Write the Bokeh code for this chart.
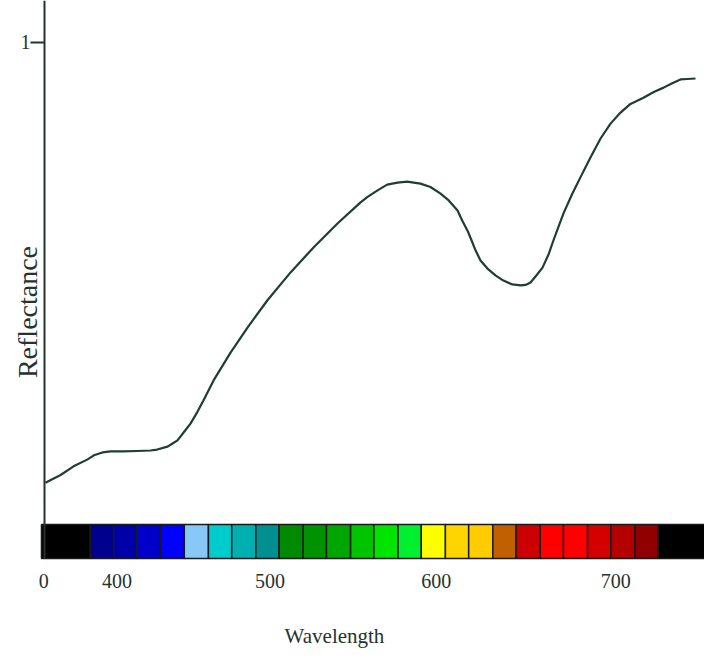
import math
from bokeh.plotting import figure
from bokeh.models import Range1d, FixedTicker, Label
from bokeh.embed import file_html
from bokeh.resources import INLINE

# Reflectance curve (wavelength in nm, reflectance 0..1)
wavelength_nm = [361.0, 370.1, 377.9, 386.1, 390.1, 395.3, 400.1, 407.9, 416.2, 424.2,
                 428.2, 434.4, 437.2, 440.4, 444.2, 448.2, 452.3, 456.0, 462.1, 472.3,
                 482.5, 494.5, 508.4, 522.2, 536.6, 550.5, 554.5, 560.7, 566.5, 572.7,
                 578.5, 586.5, 592.5, 598.6, 603.5, 608.8, 611.6, 614.8, 617.2, 619.6,
                 622.6, 626.8, 631.6, 636.4, 641.7, 646.7, 649.7, 652.7, 656.3, 659.9,
                 663.7, 666.5, 672.5, 677.8, 682.7, 688.8, 694.8, 700.8, 706.8, 712.8,
                 720.6, 726.8, 732.7, 737.9, 742.9, 746.9, 751.9]
reflectance = [0.083, 0.099, 0.117, 0.131, 0.140, 0.146, 0.148, 0.148, 0.149, 0.150,
               0.152, 0.158, 0.164, 0.171, 0.188, 0.206, 0.230, 0.254, 0.296, 0.354,
               0.406, 0.463, 0.521, 0.573, 0.623, 0.667, 0.678, 0.692, 0.704, 0.708,
               0.710, 0.706, 0.699, 0.685, 0.671, 0.650, 0.629, 0.608, 0.588, 0.567,
               0.546, 0.529, 0.515, 0.504, 0.496, 0.494, 0.495, 0.500, 0.515, 0.531,
               0.560, 0.588, 0.644, 0.685, 0.719, 0.761, 0.800, 0.831, 0.854, 0.872,
               0.885, 0.897, 0.906, 0.915, 0.923, 0.924, 0.925]

# Colour bar bands (edges in nm) and their colours
band_edges_nm = [358.6, 388, 402, 416, 430.5, 444.5, 459, 473, 487.5, 501.5, 516, 530,
                 544.5, 558.5, 573, 587, 601.5, 615.5, 630, 644, 658.5, 672.5, 687,
                 701, 715.5, 729.5, 760]
band_colors = ["#000000",
               "#00008f", "#0000a8", "#0000c8", "#0000ff",
               "#87c8f8",
               "#00cccc", "#00b0b0", "#009090",
               "#008a00", "#009200", "#00a600", "#00c400", "#00e400", "#00f030",
               "#ffff00",
               "#ffd500", "#ffcc00",
               "#c06000",
               "#cc0000", "#ff0000", "#ff0000", "#d40000", "#b40000",
               "#900000",
               "#000000"]

x_tick_positions = [360, 404, 496, 596, 704]
x_tick_labels = ["0", "400", "500", "600", "700"]
y_tick_positions = [1]
y_tick_labels = ["1"]

SERIF = "Liberation Serif"
INK = "#25332f"

p = figure(width=704, height=662,
           x_range=Range1d(333.97, 757.3), y_range=Range1d(-0.29167, 1.0875),
           output_backend="svg", toolbar_location=None,
           min_border_left=0, min_border_right=0, min_border_top=0, min_border_bottom=0)
p.outline_line_color = None
p.xgrid.visible = False
p.ygrid.visible = False
p.background_fill_color = "white"
p.border_fill_color = "white"

# colour bar
p.quad(left=band_edges_nm[:-1], right=band_edges_nm[1:],
       bottom=-0.075, top=-0.0042, fill_color=band_colors,
       line_color="#1a1a1a", line_width=1.5)

# curve
p.line(wavelength_nm, reflectance, line_color="#1e3d34", line_width=2.2,
       line_join="round")

# x axis (labels only), placed just under the colour bar
xa = p.xaxis[0]
xa.fixed_location = -0.075
xa.ticker = FixedTicker(ticks=x_tick_positions)
xa.major_label_overrides = {t: l for t, l in zip(x_tick_positions, x_tick_labels)}
xa.axis_line_color = None
xa.major_tick_line_color = None
xa.minor_tick_line_color = None
xa.major_label_standoff = 10
xa.major_label_text_font = SERIF
xa.major_label_text_font_size = "20px"
xa.major_label_text_color = INK

# y axis
ya = p.yaxis[0]
ya.fixed_location = 360.4
ya.bounds = (-0.075, 1.0875)
ya.ticker = FixedTicker(ticks=y_tick_positions)
ya.major_label_overrides = {t: l for t, l in zip(y_tick_positions, y_tick_labels)}
ya.axis_line_color = INK
ya.axis_line_width = 2
ya.major_tick_line_color = INK
ya.major_tick_line_width = 2
ya.major_tick_out = 14
ya.major_tick_in = 0
ya.minor_tick_line_color = None
ya.major_label_standoff = 0
ya.major_label_text_font = SERIF
ya.major_label_text_font_size = "20px"
ya.major_label_text_color = INK

p.add_layout(Label(x=350.2, y=0.4385, text="Reflectance", angle=math.pi / 2,
                   text_align="center", text_baseline="middle",
                   text_font=SERIF, text_font_size="28px", text_color=INK))
p.add_layout(Label(x=534.8, y=-0.2375, text="Wavelength",
                   text_align="center", text_baseline="middle",
                   text_font=SERIF, text_font_size="21px", text_color=INK))

open("out.html", "w").write(file_html(p, INLINE))
